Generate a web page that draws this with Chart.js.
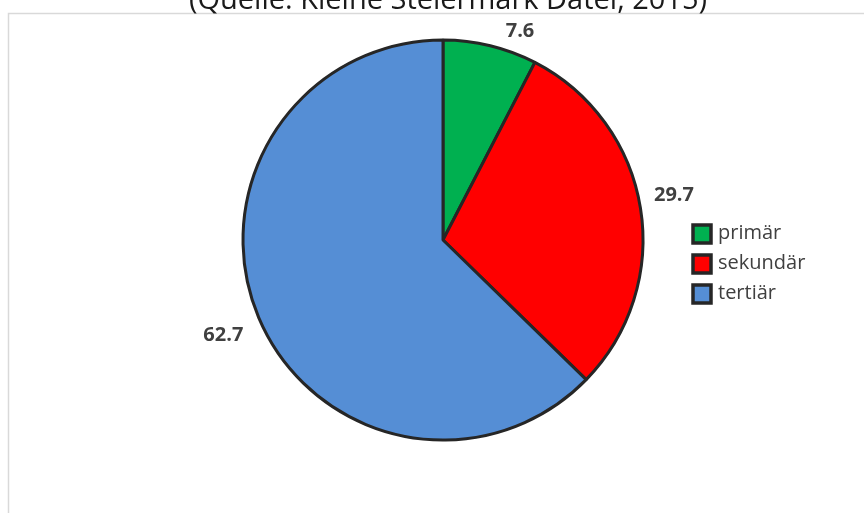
<!DOCTYPE html>
<html>
<head>
<meta charset="utf-8">
<script src="https://cdn.jsdelivr.net/npm/chart.js"></script>
<style>
  html, body { margin: 0; padding: 0; background: #fff; }
  canvas { display: block; }
</style>
</head>
<body>
<canvas id="sektorChart" width="864" height="513"></canvas>
<script>
// Daten
const sektoren = ['primär', 'sekundär', 'tertiär'];
const anteile = [7.6, 29.7, 62.7];
const farben = ['#00B050', '#FF0000', '#558ED5'];
const titel = '(Quelle: Kleine Steiermark Datei, 2015)';

// Rahmen + Titel
const rahmenPlugin = {
    id: 'rahmen',
    beforeDraw(chart) {
        const ctx = chart.ctx;
        ctx.save();
        ctx.strokeStyle = '#D9D9D9';
        ctx.lineWidth = 1.5;
        ctx.beginPath();
        ctx.moveTo(864, 13.5);
        ctx.lineTo(8.5, 13.5);
        ctx.lineTo(8.5, 513);
        ctx.stroke();

        ctx.fillStyle = '#1a1a1a';
        ctx.font = '29px "Open Sans"';
        ctx.textAlign = 'center';
        ctx.textBaseline = 'alphabetic';
        ctx.fillText(titel, 448, 9);
        ctx.restore();
    }
};

// Werte außen an den Segmenten
const wertePlugin = {
    id: 'werte',
    afterDatasetsDraw(chart, args, opts) {
        const ctx = chart.ctx;
        const meta = chart.getDatasetMeta(0);
        ctx.save();
        ctx.font = 'bold 20px "Open Sans"';
        ctx.fillStyle = '#404040';
        ctx.textAlign = 'center';
        ctx.textBaseline = 'middle';
        meta.data.forEach((arc, i) => {
            const mitte = (arc.startAngle + arc.endAngle) / 2;
            const dx = Math.cos(mitte), dy = Math.sin(mitte);
            const text = String(chart.data.datasets[0].data[i]);
            const w = ctx.measureText(text).width;
            const r = arc.outerRadius + 14;
            const v = opts.versatz[i] || [0, 0];
            const x = arc.x + r * dx + (w / 2) * dx + v[0];
            const y = arc.y + r * dy + 9 * dy + v[1];
            ctx.fillText(text, x, y);
        });
        ctx.restore();
    }
};

// Legende rechts
const legendePlugin = {
    id: 'legende',
    afterDraw(chart, args, opts) {
        const ctx = chart.ctx;
        const ds = chart.data.datasets[0];
        ctx.save();
        ctx.font = '20px "Open Sans"';
        ctx.textBaseline = 'middle';
        ctx.textAlign = 'left';
        chart.data.labels.forEach((lab, i) => {
            const y = opts.y + i * opts.abstand;
            ctx.fillStyle = ds.backgroundColor[i];
            ctx.fillRect(opts.x, y - opts.box / 2, opts.box, opts.box);
            ctx.strokeStyle = '#262626';
            ctx.lineWidth = 3.5;
            ctx.strokeRect(opts.x, y - opts.box / 2, opts.box, opts.box);
            ctx.fillStyle = '#404040';
            ctx.fillText(lab, opts.x + opts.box + 7, y - 1);
        });
        ctx.restore();
    }
};

new Chart(document.getElementById('sektorChart'), {
    type: 'pie',
    data: {
        labels: sektoren,
        datasets: [{
            data: anteile,
            backgroundColor: farben,
            borderColor: '#262626',
            borderWidth: 3
        }]
    },
    options: {
        responsive: false,
        animation: false,
        layout: {
            padding: { left: 241.5, right: 219.5, top: 38.5, bottom: 71.5 }
        },
        plugins: {
            legend: { display: false },
            tooltip: { enabled: false },
            werte: { versatz: [[23, 8], [0, -9], [-4, 8.5]] },
            legende: { x: 693, y: 234, abstand: 30, box: 18 }
        }
    },
    plugins: [rahmenPlugin, wertePlugin, legendePlugin]
});
</script>
</body>
</html>
